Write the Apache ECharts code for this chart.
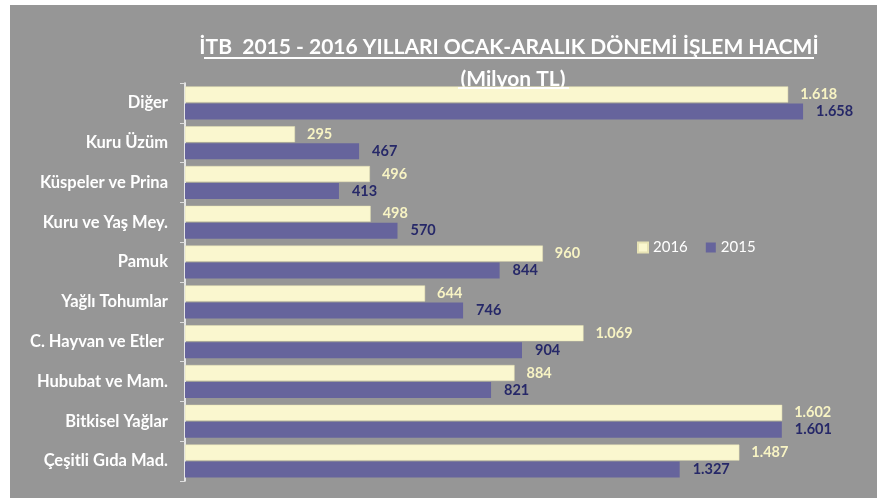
<!DOCTYPE html>
<html>
<head>
<meta charset="utf-8">
<script src="https://cdn.jsdelivr.net/npm/echarts@6/dist/echarts.min.js"></script>
<style>
  html, body { margin: 0; padding: 0; background: #fff; }
  #chart { width: 885px; height: 498px; }
</style>
</head>
<body>
<div id="chart"></div>
<script>
var categories = ['Diğer', 'Kuru Üzüm', 'Küspeler ve Prina', 'Kuru ve Yaş Mey.', 'Pamuk',
    'Yağlı Tohumlar', 'C. Hayvan ve Etler ', 'Hububat ve Mam.', 'Bitkisel Yağlar', 'Çeşitli Gıda Mad.'];
var values2016 = [1618, 295, 496, 498, 960, 644, 1069, 884, 1602, 1487];
var values2015 = [1658, 467, 413, 570, 844, 746, 904, 821, 1601, 1327];
var seriesNames = ['2016', '2015'];

// 1.618 gibi noktalı binlik ayırıcı
function trNumber(v) {
    return String(v).replace(/\B(?=(\d{3})+(?!\d))/g, '.');
}

var fontName = 'Lato';

var option = {
    backgroundColor: '#fff',
    animation: false,
    textStyle: { fontFamily: fontName },
    graphic: [
        {
            type: 'rect',
            z: -10,
            shape: { x: 10, y: 5, width: 867, height: 493 },
            style: { fill: '#969696' }
        },
        {
            type: 'text',
            x: 509,
            y: 47,
            style: {
                text: 'İTB  2015 - 2016 YILLARI OCAK-ARALIK DÖNEMİ İŞLEM HACMİ',
                fill: '#fff',
                align: 'center',
                verticalAlign: 'middle',
                font: 'bold 21px ' + fontName
            }
        },
        {
            type: 'rect',
            shape: { x: 204, y: 57, width: 610, height: 2 },
            style: { fill: '#fff' }
        },
        {
            type: 'text',
            x: 513,
            y: 79,
            style: {
                text: '(Milyon TL)',
                fill: '#fff',
                align: 'center',
                verticalAlign: 'middle',
                font: 'bold 21px ' + fontName
            }
        },
        {
            type: 'rect',
            z: 10,
            shape: { x: 458, y: 87, width: 111, height: 2 },
            style: { fill: '#fff' }
        }
    ],
    legend: {
        data: seriesNames,
        left: 632,
        top: 235,
        itemWidth: 10,
        itemHeight: 10,
        itemGap: 18,
        icon: 'rect',
        textStyle: { color: '#fff', fontSize: 15, fontFamily: fontName }
    },
    grid: {
        left: 185,
        top: 83,
        width: 671,
        bottom: 17,
        containLabel: false
    },
    xAxis: {
        type: 'value',
        min: 0,
        max: 1800,
        show: false
    },
    yAxis: {
        type: 'category',
        data: categories,
        inverse: true,
        axisLine: { lineStyle: { color: '#fff', width: 1.5 } },
        axisTick: { show: true, length: 5, lineStyle: { color: '#ddd' } },
        axisLabel: {
            color: '#fff',
            fontWeight: 'bold',
            fontSize: 16.5,
            fontFamily: fontName,
            margin: 17
        }
    },
    series: [
        {
            name: '2016',
            type: 'bar',
            data: values2016,
            barWidth: 16,
            barGap: '6%',
            itemStyle: { color: '#FAF7CF', borderColor: '#E6E2B4', borderWidth: 0.5 },
            label: {
                show: true,
                position: 'right',
                distance: 12,
                color: '#F8F4C4',
                fontWeight: 'bold',
                fontSize: 14.5,
                fontFamily: fontName,
                formatter: function (p) { return trNumber(p.value); }
            }
        },
        {
            name: '2015',
            type: 'bar',
            data: values2015,
            barWidth: 16,
            barGap: '6%',
            itemStyle: { color: '#66649C' },
            label: {
                show: true,
                position: 'right',
                distance: 13,
                color: '#262868',
                fontWeight: 'bold',
                fontSize: 14.5,
                fontFamily: fontName,
                formatter: function (p) { return trNumber(p.value); }
            }
        }
    ]
};

var chart = echarts.init(document.getElementById('chart'));
chart.setOption(option);
</script>
</body>
</html>
